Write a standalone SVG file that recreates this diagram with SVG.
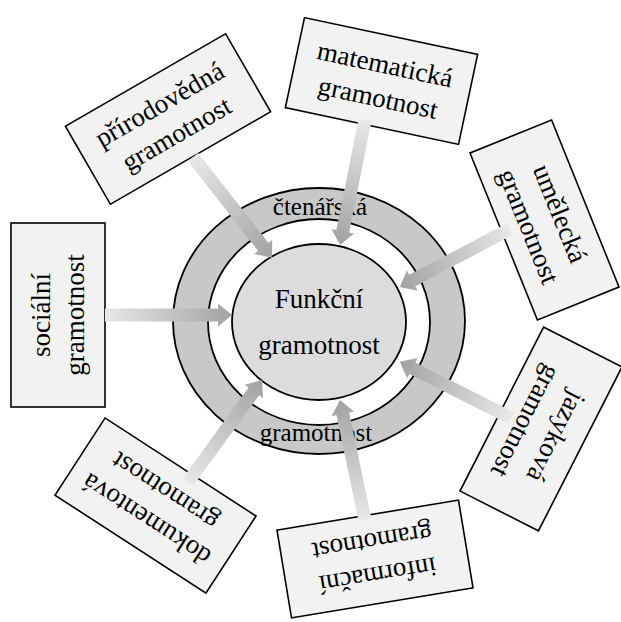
<svg xmlns="http://www.w3.org/2000/svg" width="621" height="622" viewBox="0 0 621 622">
  <defs>
    <linearGradient id="arrowGrad" x1="0" y1="0" x2="1" y2="0">
      <stop offset="0" stop-color="#e8e8e8"/>
      <stop offset="1" stop-color="#a2a2a2"/>
    </linearGradient>
    <style>
      .box { fill: #f2f2f2; stroke: #000; stroke-width: 1.6; }
      .lbl { font-family: "Liberation Serif", "Times New Roman", serif; font-size: 27px; fill: #000; text-anchor: middle; }
      .ring { font-family: "Liberation Serif", "Times New Roman", serif; font-size: 25px; fill: #000; text-anchor: middle; }
      .arrow { fill: url(#arrowGrad); stroke: none; }
      .ell { stroke: #000; stroke-width: 1.8; }
    </style>
  </defs>
  <rect width="621" height="622" fill="#fff"/>

  <g id="center">
    <ellipse class="ell" cx="319" cy="321" rx="146" ry="133" fill="#c8c8c8"/>
    <ellipse class="ell" cx="319" cy="322" rx="111" ry="103" fill="#ffffff"/>
    <ellipse class="ell" cx="319" cy="322" rx="87" ry="78" fill="#dcdcdc"/>
    <text class="ring" x="320" y="215">čtenářská</text>
    <text class="ring" x="316" y="441">gramotnost</text>
    <text class="lbl" x="319" y="308">Funkční</text>
    <text class="lbl" x="319" y="354">gramotnost</text>
  </g>

  <g id="socialni" transform="translate(58,315) rotate(-90)">
    <rect class="box" x="-92" y="-47" width="184" height="94"/>
    <text class="lbl" x="0" y="-8">sociální</text>
    <text class="lbl" x="0" y="26">gramotnost</text>
  </g>

  <g id="prirodovedna" transform="translate(168,119) rotate(-30)">
    <rect class="box" x="-92.5" y="-45" width="185" height="90"/>
    <text class="lbl" x="0" y="-8">přírodovědná</text>
    <text class="lbl" x="0" y="26">gramotnost</text>
  </g>

  <g id="matematicka" transform="translate(381.5,81) rotate(12)">
    <rect class="box" x="-88.5" y="-46" width="177" height="92"/>
    <text class="lbl" x="0" y="-8">matematická</text>
    <text class="lbl" x="0" y="26">gramotnost</text>
  </g>

  <g id="umelecka" transform="translate(544.5,220) rotate(68)">
    <rect class="box" x="-90" y="-44" width="180" height="88"/>
    <text class="lbl" x="0" y="-8">umělecká</text>
    <text class="lbl" x="0" y="26">gramotnost</text>
  </g>

  <g id="jazykova" transform="translate(541,429) rotate(117)">
    <rect class="box" x="-92" y="-44" width="184" height="88"/>
    <text class="lbl" x="0" y="-8">jazyková</text>
    <text class="lbl" x="0" y="26">gramotnost</text>
  </g>

  <g id="informacni" transform="translate(375,559) rotate(170.6)">
    <rect class="box" x="-92" y="-44.5" width="184" height="89"/>
    <text class="lbl" x="0" y="-8">informační</text>
    <text class="lbl" x="0" y="26">gramotnost</text>
  </g>

  <g id="dokumentova" transform="translate(155.5,505.6) rotate(213)">
    <rect class="box" x="-90" y="-46" width="180" height="92"/>
    <text class="lbl" x="0" y="-8">dokumentová</text>
    <text class="lbl" x="0" y="26">gramotnost</text>
  </g>

  <g id="connectors">
    <path class="arrow" transform="translate(105,315) rotate(0)" d="M0,-6.5 H113 V-11.5 L127,0 L113,11.5 V6.5 H0 Z"/>
    <path class="arrow" transform="translate(193,157) rotate(52)" d="M0,-6.5 H114 V-11.5 L128,0 L114,11.5 V6.5 H0 Z"/>
    <path class="arrow" transform="translate(365,120) rotate(101.3)" d="M0,-6.5 H113.5 V-11.5 L127.5,0 L113.5,11.5 V6.5 H0 Z"/>
    <path class="arrow" transform="translate(510,229) rotate(152.2)" d="M0,-6.5 H110.5 V-11.5 L124.5,0 L110.5,11.5 V6.5 H0 Z"/>
    <path class="arrow" transform="translate(511,418) rotate(-153.2)" d="M0,-6.5 H110.5 V-11.5 L124.5,0 L110.5,11.5 V6.5 H0 Z"/>
    <path class="arrow" transform="translate(365,520) rotate(-101.8)" d="M0,-6.5 H108.5 V-11.5 L122.5,0 L108.5,11.5 V6.5 H0 Z"/>
    <path class="arrow" transform="translate(188,482) rotate(-54)" d="M0,-6.5 H112 V-11.5 L126,0 L112,11.5 V6.5 H0 Z"/>
  </g>
</svg>
